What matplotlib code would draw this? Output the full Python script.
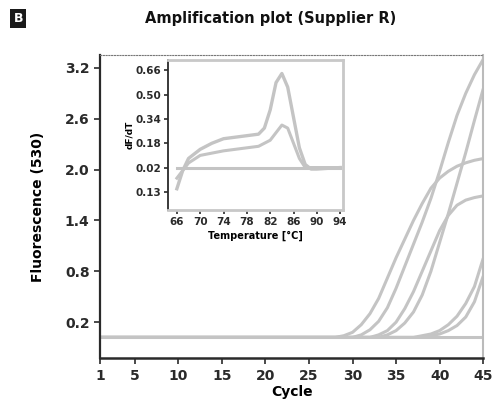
import matplotlib.pyplot as plt
import numpy as np

# amplification curves (cycle, fluorescence 530)
base_cycles = [1, 45]
base_values = [0.02, 0.02]

cyc_a = [1, 28, 29, 30, 31, 32, 33, 34, 35, 36, 37, 38, 39, 40, 41, 42, 43, 44, 45]
val_a = [0.02, 0.02, 0.04, 0.08, 0.17, 0.3, 0.48, 0.72, 0.96, 1.18, 1.4, 1.6, 1.78, 1.9, 1.98, 2.04, 2.08, 2.11, 2.13]

cyc_b = [1, 30, 31, 32, 33, 34, 35, 36, 37, 38, 39, 40, 41, 42, 43, 44, 45]
val_b = [0.02, 0.02, 0.05, 0.11, 0.21, 0.37, 0.6, 0.86, 1.12, 1.38, 1.66, 1.98, 2.32, 2.64, 2.9, 3.12, 3.3]

cyc_c = [1, 33, 34, 35, 36, 37, 38, 39, 40, 41, 42, 43, 44, 45]
val_c = [0.02, 0.02, 0.05, 0.1, 0.19, 0.32, 0.52, 0.8, 1.14, 1.48, 1.84, 2.2, 2.58, 2.95]

cyc_d = [1, 32, 33, 34, 35, 36, 37, 38, 39, 40, 41, 42, 43, 44, 45]
val_d = [0.02, 0.02, 0.05, 0.1, 0.2, 0.36, 0.56, 0.8, 1.04, 1.28, 1.46, 1.58, 1.64, 1.67, 1.69]

cyc_e = [1, 37, 39, 40, 41, 42, 43, 44, 45]
val_e = [0.02, 0.02, 0.06, 0.1, 0.17, 0.27, 0.42, 0.62, 0.95]

cyc_f = [1, 38, 40, 41, 42, 43, 44, 45]
val_f = [0.02, 0.02, 0.06, 0.1, 0.16, 0.26, 0.44, 0.74]

# melt curves (temperature, dF/dT)
melt_temp_1 = [66, 67, 68, 70, 72, 74, 76, 78, 80, 81, 82, 83, 84, 85, 86, 87, 88, 89, 90, 94]
melt_val_1 = [-0.12, 0.0, 0.08, 0.14, 0.18, 0.21, 0.22, 0.23, 0.24, 0.28, 0.4, 0.58, 0.64, 0.55, 0.35, 0.15, 0.04, 0.01, 0.01, 0.02]
melt_temp_2 = [66, 68, 70, 74, 78, 80, 82, 84, 85, 86, 87, 88, 94]
melt_val_2 = [-0.05, 0.05, 0.1, 0.13, 0.15, 0.16, 0.2, 0.3, 0.28, 0.18, 0.08, 0.02, 0.02]
melt_temp_ntc = [66, 94]
melt_val_ntc = [0.02, 0.02]

x_ticks = [1, 5, 10, 15, 20, 25, 30, 35, 40, 45]
y_ticks = [0.2, 0.8, 1.4, 2.0, 2.6, 3.2]
inset_x_ticks = [66, 70, 74, 78, 82, 86, 90, 94]
inset_y_ticks = [0.66, 0.50, 0.34, 0.18, 0.02, -0.14]
inset_y_labels = ['0.66', '0.50', '0.34', '0.18', '0.02', '0.13']

curve_col = '#c4c4c4'
dark = '#2a2a2a'

fig = plt.figure(figsize=(4.93, 4.07), dpi=100)
ax = fig.add_axes([0.203, 0.12, 0.777, 0.745])

ax.plot(base_cycles, base_values, color=curve_col, lw=2.2)
for c, v in [(cyc_a, val_a), (cyc_b, val_b), (cyc_c, val_c), (cyc_d, val_d), (cyc_e, val_e), (cyc_f, val_f)]:
    ax.plot(c, v, color=curve_col, lw=2.2, solid_joinstyle='round', solid_capstyle='round')

ax.set_xlim(1, 45)
ax.set_ylim(-0.225, 3.353)
ax.set_xticks(x_ticks)
ax.set_yticks(y_ticks)
ax.set_yticklabels([f'{t:.1f}' for t in y_ticks])
ax.tick_params(direction='out', length=4, width=1.2, colors=dark, labelsize=10)
for lab in ax.get_xticklabels() + ax.get_yticklabels():
    lab.set_fontweight('bold')
ax.spines['left'].set_color(dark)
ax.spines['left'].set_linewidth(1.6)
ax.spines['bottom'].set_color(dark)
ax.spines['bottom'].set_linewidth(1.8)
ax.spines['top'].set_color('#777777')
ax.spines['top'].set_linestyle((0, (1, 1.5)))
ax.spines['right'].set_color('#bbbbbb')
ax.spines['right'].set_linewidth(1.5)
ax.set_xlabel('Cycle', fontsize=10, fontweight='bold', labelpad=2)
ax.set_ylabel('Fluorescence (530)', fontsize=10, fontweight='bold', labelpad=14)

# melt-curve inset
ins = fig.add_axes([0.341, 0.484, 0.355, 0.369])
ins.plot(melt_temp_ntc, melt_val_ntc, color=curve_col, lw=2.2)
ins.plot(melt_temp_2, melt_val_2, color=curve_col, lw=2.2, solid_joinstyle='round')
ins.plot(melt_temp_1, melt_val_1, color=curve_col, lw=2.4, solid_joinstyle='round')
ins.set_xlim(64.5, 94.5)
ins.set_ylim(-0.26, 0.73)
ins.set_xticks(inset_x_ticks)
ins.set_yticks(inset_y_ticks)
ins.set_yticklabels(inset_y_labels)
ins.tick_params(direction='out', length=3, width=1.2, colors=dark, labelsize=7.5, pad=2)
for lab in ins.get_xticklabels() + ins.get_yticklabels():
    lab.set_fontweight('bold')
for s in ins.spines.values():
    s.set_color('#c8c8c8')
    s.set_linewidth(2)
ins.spines['left'].set_color(dark)
ins.spines['left'].set_linewidth(1.3)
ins.set_xlabel('Temperature [°C]', fontsize=7, fontweight='bold', labelpad=3)
ins.set_ylabel('dF/dT', fontsize=6.5, fontweight='bold', labelpad=1)

fig.text(0.548, 0.955, 'Amplification plot (Supplier R)', ha='center', va='center',
         fontsize=10.5, fontweight='bold', color='#111111')
fig.text(0.037, 0.955, 'B', ha='center', va='center', fontsize=9, fontweight='bold',
         color='white', bbox=dict(boxstyle='square,pad=0.25', fc='#1a1a1a', ec='none'))

fig.savefig('out.png', dpi=100)
